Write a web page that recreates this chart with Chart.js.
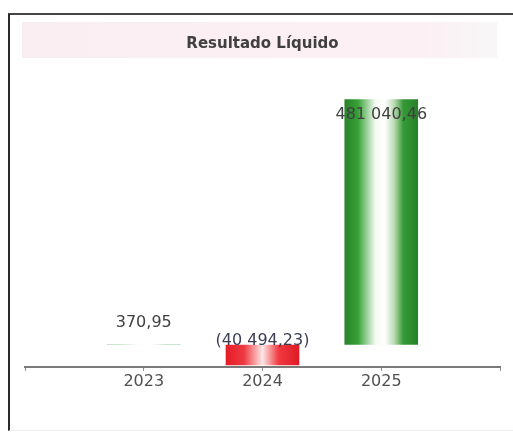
<!DOCTYPE html>
<html>
<head>
<meta charset="utf-8">
<script src="https://cdn.jsdelivr.net/npm/chart.js@4.4.1/dist/chart.umd.min.js"></script>
<style>
    html, body { margin: 0; padding: 0; background: #fff; }
    #wrap { position: relative; width: 513px; height: 435px; }
    #frame {
        position: absolute; left: 8px; top: 13px; width: 505px; height: 418px;
        border-left: 2px solid #2a2a2a; border-top: 2px solid #444;
        border-bottom: 1px solid #eee;
        box-sizing: border-box; pointer-events: none;
    }
    canvas { position: absolute; left: 0; top: 0; }
</style>
</head>
<body>
<div id="wrap">
    <canvas id="resultChart" width="513" height="435"></canvas>
    <div id="frame"></div>
</div>
<script>
const years = [2023, 2024, 2025];
const netResult = [370.95, -40494.23, 481040.46];
const yearTicks = [2023, 2024, 2025];

function formatValue(v) {
    const parts = Math.abs(v).toFixed(2).split('.');
    const intPart = parts[0].replace(/\B(?=(\d{3})+(?!\d))/g, ' ');
    const txt = intPart + ',' + parts[1];
    return v < 0 ? '(' + txt + ')' : txt;
}

function barFill(context) {
    const chart = context.chart;
    if (context.type !== 'data' || !chart.chartArea) return '#3a9a3a';
    const value = netResult[context.dataIndex];
    const x = chart.scales.x;
    const center = x.getPixelForValue(years[context.dataIndex]);
    const half = (x.getPixelForValue(2023) - x.getPixelForValue(2022)) * 0.31;
    if (!isFinite(center) || !isFinite(half)) return value < 0 ? '#e8202a' : '#3a9a3a';
    const g = chart.ctx.createLinearGradient(center - half, 0, center + half, 0);
    if (value < 0) {
        g.addColorStop(0, '#e41c26');
        g.addColorStop(0.25, '#ee3a42');
        g.addColorStop(0.5, '#fde6e6');
        g.addColorStop(0.72, '#f03a40');
        g.addColorStop(1, '#e01a24');
    } else {
        g.addColorStop(0, '#2a822a');
        g.addColorStop(0.18, '#36a036');
        g.addColorStop(0.42, '#f4faf2');
        g.addColorStop(0.55, '#ffffff');
        g.addColorStop(0.68, '#b8d8b0');
        g.addColorStop(0.8, '#359a35');
        g.addColorStop(1, '#26802a');
    }
    return g;
}

const titleBand = {
    id: 'titleBand',
    beforeDraw(chart) {
        const t = chart.titleBlock;
        const ctx = chart.ctx;
        const left = t.left - 3;
        const right = t.left + t.width - 3;
        const g = ctx.createLinearGradient(left, 0, right, 0);
        g.addColorStop(0, '#fbeef2');
        g.addColorStop(0.85, '#fcf0f4');
        g.addColorStop(1, '#f7f7f7');
        ctx.save();
        ctx.fillStyle = g;
        ctx.fillRect(left, t.top, right - left, 36);
        ctx.restore();
    }
};

const valueLabels = {
    id: 'valueLabels',
    afterDatasetsDraw(chart) {
        const ctx = chart.ctx;
        const meta = chart.getDatasetMeta(0);
        ctx.save();
        ctx.font = '16px "DejaVu Sans"';
        ctx.textAlign = 'center';
        ctx.textBaseline = 'middle';
        meta.data.forEach((bar, i) => {
            const v = netResult[i];
            let y;
            if (v < 0) {
                y = Math.min(bar.y, bar.base) - 4;
                ctx.fillStyle = '#3b3d55';
            } else if (bar.base - bar.y > 40) {
                y = bar.y + 16;
                ctx.fillStyle = '#404040';
            } else {
                y = bar.y - 22;
                ctx.fillStyle = '#404040';
            }
            ctx.fillText(formatValue(v), bar.x, y);
        });
        ctx.restore();
    }
};

new Chart(document.getElementById('resultChart').getContext('2d'), {
    type: 'bar',
    data: {
        datasets: [{
            label: 'Resultado Líquido',
            data: years.map((yr, i) => ({ x: yr, y: netResult[i] })),
            backgroundColor: barFill,
            borderWidth: 0,
            categoryPercentage: 0.62,
            barPercentage: 1
        }]
    },
    options: {
        responsive: false,
        animation: false,
        layout: { padding: { left: 25, right: 13, top: 22, bottom: 43 } },
        plugins: {
            legend: { display: false },
            tooltip: { enabled: false },
            title: {
                display: true,
                text: 'Resultado Líquido',
                color: '#404040',
                font: { family: 'DejaVu Sans', size: 15, weight: 'bold' },
                padding: { top: 13, bottom: 13 }
            }
        },
        scales: {
            x: {
                type: 'linear',
                min: 2022,
                max: 2026,
                offset: false,
                grid: { display: true, drawOnChartArea: false, offset: false, tickLength: 4, color: '#888', lineWidth: 1 },
                border: { display: true, color: '#7a7a7a', width: 2 },
                ticks: {
                    stepSize: 1,
                    padding: 1,
                    color: '#505050',
                    font: { family: 'DejaVu Sans', size: 16 },
                    callback: (val) => yearTicks.includes(val) ? String(val) : ''
                }
            },
            y: {
                display: false,
                min: -43400,
                max: 546000
            }
        }
    },
    plugins: [titleBand, valueLabels]
});
</script>
</body>
</html>
